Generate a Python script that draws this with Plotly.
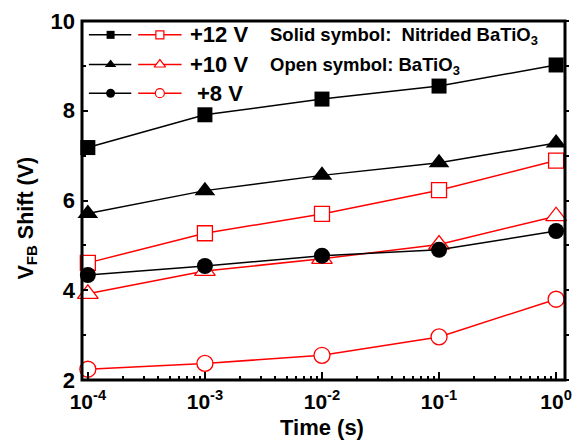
import plotly.graph_objects as go

time_s = [1e-4, 1e-3, 1e-2, 1e-1, 1e0]
nit_12 = [7.18, 7.91, 8.26, 8.55, 9.02]
nit_10 = [5.71, 6.22, 6.56, 6.84, 7.28]
nit_8 = [4.34, 4.54, 4.77, 4.90, 5.32]
bto_12 = [4.61, 5.27, 5.70, 6.23, 6.89]
bto_10 = [3.92, 4.43, 4.70, 5.02, 5.65]
bto_8 = [2.24, 2.37, 2.55, 2.96, 3.80]
voltages = ["+12 V", "+10 V", "+8 V"]
x_tickvals = [1e-4, 1e-3, 1e-2, 1e-1, 1e0]
x_ticktext = ["10<sup>-4</sup>", "10<sup>-3</sup>", "10<sup>-2</sup>", "10<sup>-1</sup>", "10<sup>0</sup>"]

FONT = "Liberation Sans, Arial, sans-serif"
RED = "#ff0000"
BLK = "#000000"

# plot-area pixel frame
PL, PR, PT, PB = 82, 572, 17, 380


def px(x):
    return (x - PL) / (PR - PL)


def py(y):
    return (PB - y) / (PB - PT)


fig = go.Figure()

symbols = ["square", "triangle-up", "circle"]
sizes = [15, 18, 16]
open_series = [bto_12, bto_10, bto_8]
solid_series = [nit_12, nit_10, nit_8]

for ys, sym, sz in zip(open_series, symbols, sizes):
    fig.add_trace(go.Scatter(
        x=time_s, y=ys, mode="lines+markers", cliponaxis=False,
        line=dict(color=RED, width=1.5),
        marker=dict(symbol=sym, size=sz, color="white", line=dict(color=RED, width=1.3)),
        showlegend=False))
for ys, sym, sz in zip(solid_series, symbols, sizes):
    fig.add_trace(go.Scatter(
        x=time_s, y=ys, mode="lines+markers", cliponaxis=False,
        line=dict(color=BLK, width=1.5),
        marker=dict(symbol=sym, size=sz, color=BLK, line=dict(color=BLK, width=0)),
        showlegend=False))

# custom legend glyphs on an overlay axis in pixel-like coordinates
rows_y = [31, 61, 90]
leg_sizes = [8, 10, 9]
for ry, sym, lsz in zip(rows_y, symbols, leg_sizes):
    fig.add_trace(go.Scatter(x=[89, 132], y=[ry, ry], mode="lines", xaxis="x2", yaxis="y2",
                             line=dict(color=BLK, width=1.5), showlegend=False, hoverinfo="skip"))
    fig.add_trace(go.Scatter(x=[111], y=[ry], mode="markers", xaxis="x2", yaxis="y2",
                             marker=dict(symbol=sym, size=lsz, color=BLK), showlegend=False, hoverinfo="skip"))
    fig.add_trace(go.Scatter(x=[139, 183], y=[ry, ry], mode="lines", xaxis="x2", yaxis="y2",
                             line=dict(color=RED, width=1.5), showlegend=False, hoverinfo="skip"))
    fig.add_trace(go.Scatter(x=[161], y=[ry], mode="markers", xaxis="x2", yaxis="y2",
                             marker=dict(symbol=sym, size=lsz, color="white", line=dict(color=RED, width=1.2)),
                             showlegend=False, hoverinfo="skip"))

annotations = []
leg_text_x = [190, 190, 197]
for ry, tx, lab in zip(rows_y, leg_text_x, voltages):
    annotations.append(dict(x=px(tx), y=py(ry), xref="paper", yref="paper", text="<b>%s</b>" % lab,
                            showarrow=False, xanchor="left", yanchor="middle",
                            font=dict(family=FONT, size=22, color=BLK)))
annotations.append(dict(x=px(271), y=py(32), xref="paper", yref="paper",
                        text="<b>Solid symbol:&nbsp; Nitrided BaTiO<sub>3</sub></b>", showarrow=False,
                        xanchor="left", yanchor="middle", font=dict(family=FONT, size=18.5, color=BLK)))
annotations.append(dict(x=px(271), y=py(63), xref="paper", yref="paper",
                        text="<b>Open symbol: BaTiO<sub>3</sub></b>", showarrow=False,
                        xanchor="left", yanchor="middle", font=dict(family=FONT, size=18.5, color=BLK)))
# axis titles
annotations.append(dict(x=px(325), y=py(428), xref="paper", yref="paper", text="<b>Time (s)</b>",
                        showarrow=False, xanchor="center", yanchor="middle",
                        font=dict(family=FONT, size=22, color=BLK)))
annotations.append(dict(x=px(27), y=py(216), xref="paper", yref="paper", text="<b>V<sub>FB</sub> Shift (V)</b>",
                        showarrow=False, textangle=-90, xanchor="center", yanchor="middle",
                        font=dict(family=FONT, size=21.5, color=BLK)))

shapes = [dict(type="rect", xref="paper", yref="paper", x0=0, x1=1, y0=0, y1=1,
               line=dict(color=BLK, width=3), layer="above")]

fig.update_layout(
    width=581, height=445,
    margin=dict(l=PL, r=581 - PR, t=PT, b=445 - PB),
    paper_bgcolor="white", plot_bgcolor="white",
    font=dict(family=FONT, color=BLK),
    annotations=annotations,
    shapes=shapes,
    xaxis=dict(type="log", range=[-4.05, 0.076], tickmode="array", tickvals=x_tickvals,
               ticktext=["<b>%s</b>" % t for t in x_ticktext], ticklabeloverflow="allow",
               ticklabelstandoff=7,
               ticks="inside", ticklen=8, tickwidth=2, tickcolor=BLK,
               minor=dict(ticks="inside", ticklen=4, tickwidth=2, tickcolor=BLK, dtick="D1", showgrid=False),
               showline=False, showgrid=False, zeroline=False,
               tickfont=dict(family=FONT, size=21, color=BLK)),
    yaxis=dict(range=[2, 10], dtick=2, tick0=0, tickprefix="<b>", ticksuffix="</b>",
               ticklabelstandoff=6,
               ticks="inside", ticklen=6, tickwidth=2, tickcolor=BLK,
               minor=dict(ticks="inside", ticklen=4, tickwidth=2, tickcolor=BLK, dtick=1, showgrid=False),
               showline=False, showgrid=False, zeroline=False,
               tickfont=dict(family=FONT, size=22, color=BLK)),
    xaxis2=dict(overlaying="x", range=[PL, PR], visible=False, fixedrange=True),
    yaxis2=dict(overlaying="y", range=[PB, PT], visible=False, fixedrange=True),
    yaxis3=dict(overlaying="y", side="right", range=[2, 10], dtick=1, tick0=0, showticklabels=False,
                ticks="outside", ticklen=3, tickwidth=2, tickcolor=BLK, showgrid=False,
                zeroline=False, showline=False, fixedrange=True),
)
# a hidden trace to make yaxis3 render
fig.add_trace(go.Scatter(x=[None], y=[None], yaxis="y3", showlegend=False, hoverinfo="skip"))

fig.write_html("out.html")
